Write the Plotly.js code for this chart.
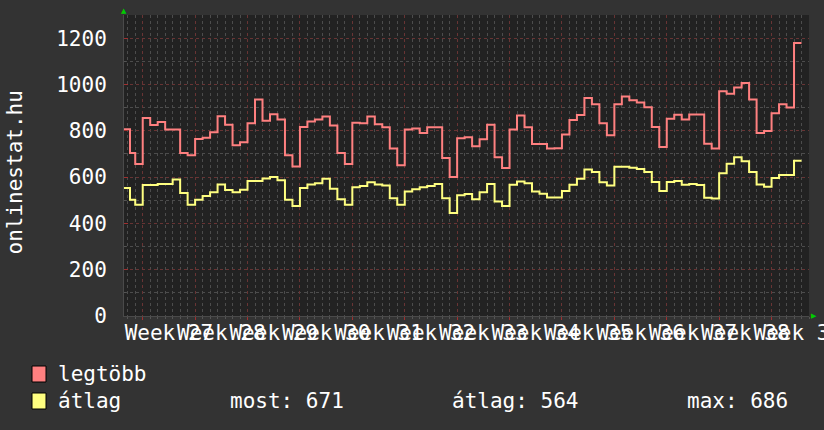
<!DOCTYPE html>
<html>
<head>
<meta charset="utf-8">
<script src="https://cdn.plot.ly/plotly-3.0.1.min.js"></script>
<style>
html,body{margin:0;padding:0;background:#333333;}
#chart{width:824px;height:430px;}
</style>
</head>
<body>
<div id="chart"></div>
<script>
// ---- data ----
// start of each step (in days); first two steps are partial
const stepStartsHead = [4.5, 5.3];
const firstFullDay = 6, lastDay = 94, endDay = 95;

const legtobb = [807, 704, 656, 855, 825, 838, 805, 805, 704, 694, 764, 770, 794, 863, 826, 737, 750, 832, 935, 843,
  871, 849, 694, 646, 816, 840, 849, 862, 823, 704, 656, 835, 832, 862, 828, 815, 723, 651, 805, 810,
  790, 815, 815, 682, 600, 768, 772, 733, 763, 826, 686, 639, 806, 866, 815, 743, 743, 723, 725, 784,
  846, 868, 941, 914, 832, 781, 915, 948, 932, 922, 902, 816, 730, 852, 869, 849, 870, 870, 744, 723,
  971, 960, 987, 1006, 935, 790, 799, 876, 914, 901, 1179];

const atlag = [553, 502, 481, 566, 566, 570, 570, 590, 531, 481, 502, 518, 534, 568, 544, 535, 545, 583, 583, 594,
  600, 586, 502, 475, 553, 568, 573, 593, 550, 504, 481, 556, 561, 578, 568, 564, 509, 481, 538, 547,
  556, 561, 570, 509, 445, 521, 527, 504, 534, 570, 495, 475, 567, 581, 573, 538, 528, 512, 512, 540,
  567, 593, 633, 622, 578, 564, 645, 645, 640, 635, 622, 579, 540, 579, 583, 567, 570, 566, 511, 507,
  617, 658, 686, 668, 622, 568, 558, 596, 609, 609, 671];

const weekNumbers = [27, 28, 29, 30, 31, 32, 33, 34, 35, 36, 37, 38, 39];
const weekLabels = weekNumbers.map(w => 'Week ' + w);
const seriesNames = ['legtöbb', 'átlag'];
const statLabels = ['most: 671', 'átlag: 564', 'max: 686'];
const yTitle = 'onlinestat.hu';

// ---- build ----
const days = stepStartsHead.slice();
for (let d = firstFullDay; d <= lastDay; d++) days.push(d);
const xs = days.concat([endDay]);
const redY = legtobb.concat([legtobb[legtobb.length - 1]]);
const yelY = atlag.concat([atlag[atlag.length - 1]]);
// week N is day range [7*(N-26), 7*(N-25)); label centred in the week
const weekMid = weekNumbers.map(w => 7 * (w - 26) + 3.5);

const FONT = 'DejaVu Sans Mono, monospace';
const RED = '#ff8080', YEL = '#ffff80';
const xr = [4.5, 96];
const MAJOR = '#683434', MINOR = '#4c4c4c';

const traces = [
  {x: xs, y: redY, type: 'scatter', mode: 'lines', line: {shape: 'hv', color: RED, width: 2},
   name: seriesNames[0], xaxis: 'x', yaxis: 'y', showlegend: false, hoverinfo: 'skip'},
  {x: xs, y: yelY, type: 'scatter', mode: 'lines', line: {shape: 'hv', color: YEL, width: 2},
   name: seriesNames[1], xaxis: 'x2', yaxis: 'y', showlegend: false, hoverinfo: 'skip'}
];

const ann = [];
const shapes = [];
// y axis title
ann.push({text: yTitle, xref: 'paper', yref: 'paper', x: 0, y: 0.5, xshift: -110, yshift: -7,
  textangle: -90, showarrow: false, font: {family: FONT, size: 21, color: '#ffffff'}, xanchor: 'center', yanchor: 'middle'});
// axis arrows
ann.push({text: '▲', xref: 'paper', yref: 'paper', x: 0, y: 1, yshift: 4, showarrow: false,
  font: {family: 'DejaVu Sans', size: 7, color: '#00cc00'}, xanchor: 'center', yanchor: 'middle'});
ann.push({text: '▶', xref: 'paper', yref: 'paper', x: 1, y: 0, xshift: 5, showarrow: false,
  font: {family: 'DejaVu Sans', size: 7, color: '#00cc00'}, xanchor: 'center', yanchor: 'middle'});
// legend
const legendRows = [{name: seriesNames[0], color: RED, yc: -58}, {name: seriesNames[1], color: YEL, yc: -85}];
legendRows.forEach(r => {
  shapes.push({type: 'rect', xref: 'paper', yref: 'paper', xsizemode: 'pixel', ysizemode: 'pixel',
    xanchor: 0, yanchor: 0, x0: -92, x1: -78, y0: r.yc - 8, y1: r.yc + 8,
    fillcolor: r.color, line: {color: '#000000', width: 1}});
  ann.push({text: r.name, xref: 'paper', yref: 'paper', x: 0, y: 0, xshift: -68, yshift: r.yc,
    showarrow: false, xanchor: 'left', yanchor: 'middle', font: {family: FONT, size: 21, color: '#ffffff'}});
});
const statX = [104, 326, 561];
statLabels.forEach((t, i) => {
  ann.push({text: t, xref: 'paper', yref: 'paper', x: 0, y: 0, xshift: statX[i], yshift: -85,
    showarrow: false, xanchor: 'left', yanchor: 'middle', font: {family: FONT, size: 21, color: '#ffffff'}});
});

const layout = {
  width: 824, height: 430,
  margin: {l: 124, r: 15, t: 15, b: 114, pad: 0},
  paper_bgcolor: '#333333', plot_bgcolor: '#222222',
  font: {family: FONT, size: 21, color: '#ffffff'},
  showlegend: false,
  xaxis: {range: xr, tick0: 0, dtick: 7, showticklabels: false, showgrid: true,
    gridcolor: MAJOR, griddash: 'dot', gridwidth: 1, zeroline: false,
    ticks: 'outside', ticklen: 3, tickcolor: '#a03030',
    showline: true, linecolor: '#4a4a4a', linewidth: 1,
    minor: {tick0: 0, dtick: 1, showgrid: true, gridcolor: MINOR, griddash: 'dot', gridwidth: 1,
      ticks: 'outside', ticklen: 2, tickcolor: '#555555'}},
  xaxis2: {range: xr, overlaying: 'x', anchor: 'y', side: 'bottom', tickmode: 'array',
    tickvals: weekMid, ticktext: weekLabels, tickangle: 0, ticklabeloverflow: 'allow',
    showgrid: false, zeroline: false, ticks: '',
    ticklabelstandoff: 2, tickfont: {family: FONT, size: 21, color: '#ffffff'}, showline: false},
  yaxis: {range: [0, 1300], tick0: 0, dtick: 200, showgrid: true, gridcolor: MAJOR, griddash: 'dot',
    gridwidth: 1, zeroline: false, ticks: 'inside', ticklen: 4, tickcolor: '#a03030',
    showline: true, linecolor: '#4a4a4a', linewidth: 1, ticklabelstandoff: 12,
    tickfont: {family: FONT, size: 21, color: '#ffffff'},
    minor: {tick0: 0, dtick: 100, showgrid: true, gridcolor: MINOR, griddash: 'dot', gridwidth: 1,
      ticks: 'inside', ticklen: 2, tickcolor: '#555555'}},
  annotations: ann,
  shapes: shapes
};

Plotly.newPlot('chart', traces, layout, {displayModeBar: false, staticPlot: true});
</script>
</body>
</html>
